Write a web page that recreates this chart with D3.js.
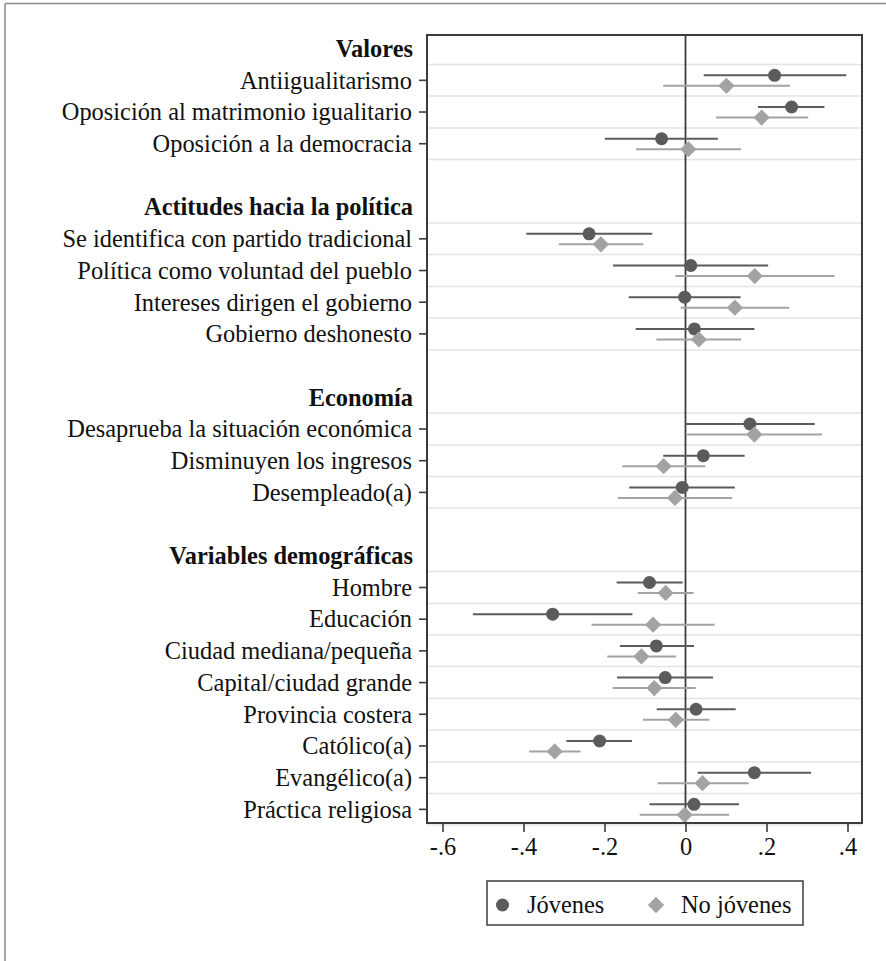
<!DOCTYPE html>
<html>
<head>
<meta charset="utf-8">
<script src="https://cdn.jsdelivr.net/npm/d3@7"></script>
<style>
  html, body { margin: 0; padding: 0; background: #fff; }
  svg { display: block; }
  text { font-family: "Liberation Serif", "Times New Roman", serif; fill: #111; }
</style>
</head>
<body>
<svg id="chart" width="886" height="961"></svg>
<script>
// Row layout: section headings, variables and blank spacer rows, top to bottom
const rowLabels = [
  "Valores",
  "Antiigualitarismo",
  "Oposición al matrimonio igualitario",
  "Oposición a la democracia",
  "",
  "Actitudes hacia la política",
  "Se identifica con partido tradicional",
  "Política como voluntad del pueblo",
  "Intereses dirigen el gobierno",
  "Gobierno deshonesto",
  "",
  "Economía",
  "Desaprueba la situación económica",
  "Disminuyen los ingresos",
  "Desempleado(a)",
  "",
  "Variables demográficas",
  "Hombre",
  "Educación",
  "Ciudad mediana/pequeña",
  "Capital/ciudad grande",
  "Provincia costera",
  "Católico(a)",
  "Evangélico(a)",
  "Práctica religiosa"
];
const headings = ["Valores", "Actitudes hacia la política", "Economía", "Variables demográficas"];

// Variables in the order of the coefficient arrays below
const variables = [
  "Antiigualitarismo", "Oposición al matrimonio igualitario", "Oposición a la democracia",
  "Se identifica con partido tradicional", "Política como voluntad del pueblo",
  "Intereses dirigen el gobierno", "Gobierno deshonesto",
  "Desaprueba la situación económica", "Disminuyen los ingresos", "Desempleado(a)",
  "Hombre", "Educación", "Ciudad mediana/pequeña", "Capital/ciudad grande",
  "Provincia costera", "Católico(a)", "Evangélico(a)", "Práctica religiosa"
];

// Jóvenes: point estimates and confidence bounds
const jovenesCoef = [0.220, 0.262, -0.059, -0.238, 0.013, -0.002, 0.022, 0.159, 0.044, -0.008,
                     -0.089, -0.328, -0.072, -0.050, 0.026, -0.212, 0.170, 0.021];
const jovenesLo   = [0.045, 0.179, -0.199, -0.393, -0.179, -0.140, -0.123, 0.000, -0.055, -0.139,
                     -0.170, -0.525, -0.162, -0.169, -0.071, -0.294, 0.030, -0.089];
const jovenesHi   = [0.397, 0.343, 0.080, -0.082, 0.204, 0.136, 0.170, 0.319, 0.146, 0.122,
                     -0.007, -0.131, 0.021, 0.068, 0.124, -0.132, 0.310, 0.132];

// No jóvenes: point estimates and confidence bounds
const noJovenesCoef = [0.101, 0.188, 0.007, -0.209, 0.171, 0.122, 0.033, 0.170, -0.054, -0.026,
                       -0.049, -0.080, -0.109, -0.077, -0.024, -0.323, 0.042, -0.002];
const noJovenesLo   = [-0.055, 0.075, -0.122, -0.313, -0.025, -0.012, -0.072, 0.004, -0.156, -0.167,
                       -0.118, -0.232, -0.193, -0.180, -0.105, -0.386, -0.069, -0.113];
const noJovenesHi   = [0.258, 0.303, 0.137, -0.104, 0.368, 0.256, 0.137, 0.337, 0.049, 0.115,
                       0.020, 0.072, -0.023, 0.025, 0.059, -0.259, 0.156, 0.108];

const xTicks = [-0.6, -0.4, -0.2, 0, 0.2, 0.4];
const seriesNames = ["Jóvenes", "No jóvenes"];

const svg = d3.select("#chart");
const plot = { left: 427, right: 862, top: 35, bottom: 823 };
const darkColor = "#5b5b5b";
const lightColor = "#a3a3a3";
const fontSize = 24.4;

const x = d3.scaleLinear().domain([-0.6, 0.4]).range([442.5, 847.5]);
const y = d3.scalePoint().domain(d3.range(rowLabels.length))
  .range([plot.top, plot.bottom]).padding(0.43);
const rowOf = name => rowLabels.indexOf(name);
const half = y.step() / 2;

// Partial outer frame of the graph region
svg.append("line").attr("x1", 5).attr("x2", 886).attr("y1", 3.5).attr("y2", 3.5)
  .attr("stroke", "#8a8a8a").attr("stroke-width", 1.5);
svg.append("line").attr("x1", 5).attr("x2", 5).attr("y1", 3.5).attr("y2", 961)
  .attr("stroke", "#8a8a8a").attr("stroke-width", 1.5);

// Grid lines bracketing each variable row
const gridYs = Array.from(new Set(variables.flatMap(v => [y(rowOf(v)) - half, y(rowOf(v)) + half].map(d => Math.round(d * 2) / 2))));
svg.append("g").selectAll("line").data(gridYs).join("line")
  .attr("x1", plot.left).attr("x2", plot.right)
  .attr("y1", d => d).attr("y2", d => d)
  .attr("stroke", "#e4e4e4").attr("stroke-width", 1.6);

// Reference line at zero
svg.append("line").attr("x1", x(0)).attr("x2", x(0))
  .attr("y1", plot.top).attr("y2", plot.bottom)
  .attr("stroke", "#3c3c3c").attr("stroke-width", 1.8);

// Confidence intervals and point estimates
const series = [
  { coef: jovenesCoef, lo: jovenesLo, hi: jovenesHi, color: darkColor, dy: -5, shape: "circle" },
  { coef: noJovenesCoef, lo: noJovenesLo, hi: noJovenesHi, color: lightColor, dy: 5.5, shape: "diamond" }
];
const circleSym = d3.symbol().type(d3.symbolCircle).size(Math.PI * 6.5 * 6.5);
const diamondSym = d3.symbol().type(d3.symbolSquare).size(11.5 * 11.5);

series.forEach(s => {
  const g = svg.append("g");
  g.selectAll("line").data(variables).join("line")
    .attr("x1", (v, i) => x(s.lo[i])).attr("x2", (v, i) => x(s.hi[i]))
    .attr("y1", v => y(rowOf(v)) + s.dy).attr("y2", v => y(rowOf(v)) + s.dy)
    .attr("stroke", s.color).attr("stroke-width", 2);
  g.selectAll("path").data(variables).join("path")
    .attr("d", s.shape === "circle" ? circleSym : diamondSym)
    .attr("transform", (v, i) => `translate(${x(s.coef[i])},${y(rowOf(v)) + s.dy})` + (s.shape === "diamond" ? " rotate(45)" : ""))
    .attr("fill", s.color);
});

// Plot frame
svg.append("rect").attr("x", plot.left).attr("y", plot.top)
  .attr("width", plot.right - plot.left).attr("height", plot.bottom - plot.top)
  .attr("fill", "none").attr("stroke", "#3c3c3c").attr("stroke-width", 2);

// Bottom axis, labels in the style "-.6", "0", ".2"
const fmt = d => {
  if (d === 0) return "0";
  const s = Math.abs(d).toFixed(1).replace(/^0/, "");
  return (d < 0 ? "-" : "") + s;
};
const xAxis = svg.append("g").attr("transform", `translate(0,${plot.bottom})`)
  .call(d3.axisBottom(x).tickValues(xTicks).tickFormat(fmt).tickSize(9).tickPadding(6));
xAxis.select(".domain").remove();
xAxis.selectAll(".tick line").attr("stroke", "#3c3c3c").attr("stroke-width", 1.6);
xAxis.selectAll(".tick text").attr("font-size", fontSize)
  .style("font-family", '"Liberation Serif", serif').attr("fill", "#111");

// Left axis: ticks on variable rows, bold headings without ticks
const left = svg.append("g");
left.selectAll("line").data(variables).join("line")
  .attr("x1", plot.left - 8).attr("x2", plot.left)
  .attr("y1", v => y(rowOf(v))).attr("y2", v => y(rowOf(v)))
  .attr("stroke", "#3c3c3c").attr("stroke-width", 1.6);
left.selectAll("text.var").data(variables).join("text").attr("class", "var")
  .attr("x", plot.left - 15).attr("y", v => y(rowOf(v)))
  .attr("dy", "0.34em").attr("text-anchor", "end").attr("font-size", fontSize)
  .text(v => v);
left.selectAll("text.head").data(headings).join("text").attr("class", "head")
  .attr("x", plot.left - 14).attr("y", h => y(rowOf(h)))
  .attr("dy", "0.34em").attr("text-anchor", "end").attr("font-size", fontSize)
  .attr("font-weight", "bold").text(h => h);

// Legend
const legend = svg.append("g");
legend.append("rect").attr("x", 487).attr("y", 881).attr("width", 316).attr("height", 44)
  .attr("fill", "#fff").attr("stroke", "#3c3c3c").attr("stroke-width", 1.5);
legend.append("path").attr("d", circleSym).attr("transform", "translate(502.5,905)").attr("fill", darkColor);
legend.append("text").attr("x", 527).attr("y", 905).attr("dy", "0.34em").attr("font-size", fontSize).text(seriesNames[0]);
legend.append("path").attr("d", diamondSym).attr("transform", "translate(656,905) rotate(45)").attr("fill", lightColor);
legend.append("text").attr("x", 681).attr("y", 905).attr("dy", "0.34em").attr("font-size", fontSize).text(seriesNames[1]);
</script>
</body>
</html>
